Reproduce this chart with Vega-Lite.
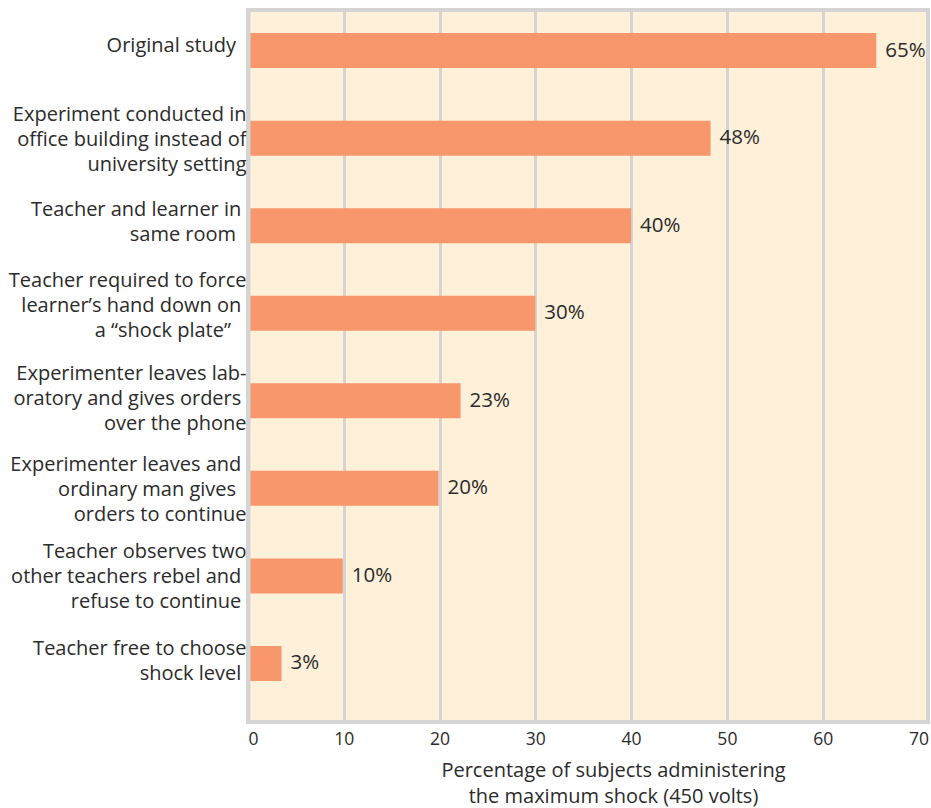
{
  "$schema": "https://vega.github.io/schema/vega-lite/v6.json",
  "autosize": "none",
  "width": 680,
  "height": 712,
  "padding": {"left": 248, "top": 10, "right": 3, "bottom": 86},
  "background": "white",
  "data": {
    "values": [
      {"condition": "Original study\u00a0\u00a0\u200b", "value": 65.6, "label": "65%"},
      {"condition": "Experiment conducted in|office building instead of|university setting", "value": 48.3, "label": "48%"},
      {"condition": "Teacher and learner in\u00a0\u200b|same room\u00a0\u00a0\u200b", "value": 40, "label": "40%"},
      {"condition": "Teacher required to force|learner’s hand down on\u00a0\u200b|a “shock plate”\u00a0\u00a0\u00a0\u200b", "value": 30, "label": "30%"},
      {"condition": "Experimenter leaves lab-|oratory and gives orders\u00a0\u200b|over the phone", "value": 22.2, "label": "23%"},
      {"condition": "Experimenter leaves and\u00a0\u200b|ordinary man gives\u00a0\u00a0\u200b|orders to continue", "value": 19.9, "label": "20%"},
      {"condition": "Teacher observes two|other teachers rebel and\u00a0\u200b|refuse to continue\u00a0\u200b", "value": 9.9, "label": "10%"},
      {"condition": "Teacher free to choose|shock level\u00a0\u200b", "value": 3.5, "label": "3%"}
    ]
  },
  "encoding": {
    "y": {
      "field": "condition",
      "type": "nominal",
      "sort": null,
      "scale": {"paddingInner": 0.6, "paddingOuter": 0.366, "align": 0.36},
      "axis": {
        "title": null,
        "domain": true,
        "domainColor": "#D4D4D4",
        "domainWidth": 4,
        "ticks": false,
        "zindex": 1,
        "labelPadding": 2,
        "labelFont": "Open Sans",
        "labelFontSize": 20,
        "labelColor": "#2b2b2b",
        "labelLineHeight": 25,
        "labelLimit": 300,
        "labelAlign": "right",
        "labelBaseline": "middle",
        "labelOffset": {
          "condition": [
            {"test": "indexof(datum.label, 'Original') >= 0", "value": -5},
            {"test": "indexof(datum.label, 'Experiment conducted') >= 0", "value": -23},
            {"test": "indexof(datum.label, 'Teacher and learner') >= 0", "value": -16},
            {"test": "indexof(datum.label, 'Teacher required') >= 0", "value": -32},
            {"test": "indexof(datum.label, 'lab-') >= 0", "value": -27},
            {"test": "indexof(datum.label, 'leaves and') >= 0", "value": -23},
            {"test": "indexof(datum.label, 'observes') >= 0", "value": -24},
            {"test": "indexof(datum.label, 'free to choose') >= 0", "value": -14}
          ],
          "value": -20
        },
        "labelExpr": "split(datum.label, '|')"
      }
    }
  },
  "layer": [
    {
      "mark": {"type": "bar", "color": "#F8976B"},
      "encoding": {
        "x": {
          "field": "value",
          "type": "quantitative",
          "scale": {"domain": [0, 71], "nice": false, "zero": true},
          "axis": {
            "values": [0, 10, 20, 30, 40, 50, 60, 70],
            "grid": true,
            "gridColor": "#D4D4D4",
            "gridWidth": 3,
            "gridOpacity": {"condition": {"test": "datum.value >= 70", "value": 0}, "value": 1},
            "domain": false,
            "ticks": false,
            "labelFont": "Open Sans",
            "labelFontSize": 17.5,
            "labelColor": "#2b2b2b",
            "labelPadding": 8,
            "title": ["Percentage of subjects administering", "the maximum shock (450 volts)"],
            "titleFont": "Open Sans",
            "titleFontSize": 20,
            "titleFontWeight": "normal",
            "titleColor": "#2b2b2b",
            "titleLineHeight": 26,
            "titleX": 365,
            "titleY": 38,
            "titleBaseline": "top",
            "titleAnchor": "middle",
            "titleAlign": "center"
          }
        }
      }
    },
    {
      "mark": {"type": "text", "align": "left", "baseline": "middle", "dx": 9, "font": "Open Sans", "fontSize": 20.5, "color": "#2b2b2b"},
      "encoding": {
        "x": {"field": "value", "type": "quantitative"},
        "text": {"field": "label"}
      }
    }
  ],
  "config": {
    "view": {"fill": "#FEF0D9", "stroke": "#D4D4D4", "strokeWidth": 4}
  }
}
